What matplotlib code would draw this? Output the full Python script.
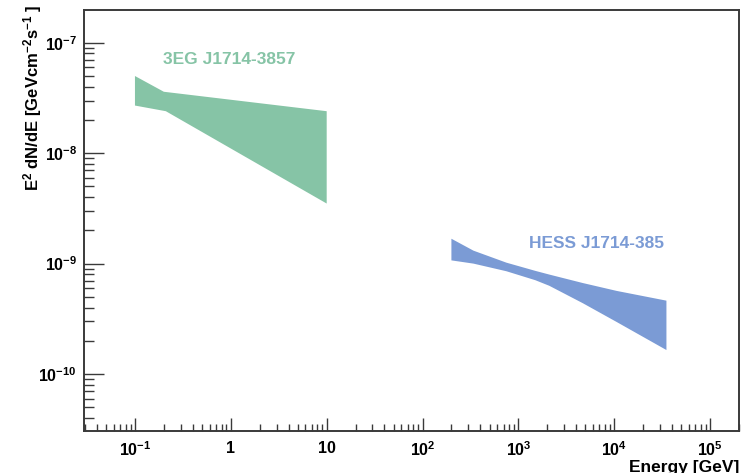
import matplotlib
matplotlib.use("Agg")
import matplotlib.pyplot as plt
from matplotlib.ticker import FixedLocator, FixedFormatter, LogLocator, NullFormatter

plt.rcParams['font.family'] = ['Liberation Sans', 'DejaVu Sans']
plt.rcParams['font.weight'] = 'bold'
plt.rcParams['mathtext.fontset'] = 'custom'
plt.rcParams['mathtext.rm'] = 'Liberation Sans:bold'
plt.rcParams['mathtext.bf'] = 'Liberation Sans:bold'
plt.rcParams['mathtext.it'] = 'Liberation Sans:bold:italic'

# 3EG J1714-3857 (EGRET) butterfly
egret_energy_up = [0.1, 0.2, 10]
egret_flux_up = [5.0e-8, 3.6e-8, 2.4e-8]
egret_energy_lo = [0.1, 0.21, 10]
egret_flux_lo = [2.7e-8, 2.4e-8, 3.5e-9]

# HESS J1714-385 butterfly
hess_energy = [200, 340, 750, 1500, 2100, 4700, 10600, 35000]
hess_flux_up = [1.68e-9, 1.31e-9, 1.02e-9, 8.6e-10, 7.96e-10, 6.67e-10, 5.66e-10, 4.62e-10]
hess_flux_lo = [1.07e-9, 1.0e-9, 8.53e-10, 7.08e-10, 6.3e-10, 4.38e-10, 2.96e-10, 1.65e-10]

x_ticks = [1e-1, 1, 10, 1e2, 1e3, 1e4, 1e5]
x_labels = [r'$10^{-1}$', '1', '10', r'$10^{2}$', r'$10^{3}$', r'$10^{4}$', r'$10^{5}$']
y_ticks = [1e-10, 1e-9, 1e-8, 1e-7]
y_labels = [r'$10^{-10}$', r'$10^{-9}$', r'$10^{-8}$', r'$10^{-7}$']

green = '#86c4a6'
blue = '#7b9bd5'
frame = '#3a3a3a'

fig = plt.figure(figsize=(7.49, 4.73), dpi=100)
ax = fig.add_axes([84/749, 42/473, 655/749, 421/473])

ax.fill(egret_energy_up + egret_energy_lo[::-1], egret_flux_up + egret_flux_lo[::-1],
        color=green, lw=0)
ax.fill(hess_energy + hess_energy[::-1], hess_flux_up + hess_flux_lo[::-1],
        color=blue, lw=0)

ax.text(0.95, 7.0e-8, '3EG J1714-3857', color=green, fontsize=12.5,
        fontweight='bold', ha='center', va='center')
ax.text(6600, 1.52e-9, 'HESS J1714-385', color=blue, fontsize=12.5,
        fontweight='bold', ha='center', va='center')

ax.set_xscale('log')
ax.set_yscale('log')
ax.set_xlim(0.0294, 2.0e5)
ax.set_ylim(3.05e-11, 1.98e-7)

ax.xaxis.set_major_locator(FixedLocator(x_ticks))
ax.xaxis.set_major_formatter(FixedFormatter(x_labels))
ax.yaxis.set_major_locator(FixedLocator(y_ticks))
ax.yaxis.set_major_formatter(FixedFormatter(y_labels))
ax.xaxis.set_minor_locator(LogLocator(base=10, subs=range(2, 10), numticks=30))
ax.yaxis.set_minor_locator(LogLocator(base=10, subs=range(2, 10), numticks=30))
ax.xaxis.set_minor_formatter(NullFormatter())
ax.yaxis.set_minor_formatter(NullFormatter())

ax.tick_params(axis='x', which='major', direction='in', length=9.5, width=1,
               color=frame, pad=7, labelsize=11.5)
ax.tick_params(axis='x', which='minor', direction='in', length=5, width=1, color=frame)
ax.tick_params(axis='y', which='major', direction='in', length=14.5, width=1,
               color=frame, pad=5, labelsize=11.5)
ax.tick_params(axis='y', which='minor', direction='in', length=7, width=1, color=frame)
ax.tick_params(top=False, right=False, which='both')

for s in ax.spines.values():
    s.set_color(frame)
    s.set_linewidth(1.4)

fig.text(739/749, 1 - 467/473, 'Energy [GeV]', ha='right', va='center',
         fontsize=12.5, fontweight='bold')
fig.text(33/749, 1 - 4/473, r'E$^{2}$ dN/dE [GeVcm$^{-2}$s$^{-1}$ ]', rotation=90,
         ha='center', va='top', fontsize=12, fontweight='bold')

fig.savefig('out.png', dpi=100)
